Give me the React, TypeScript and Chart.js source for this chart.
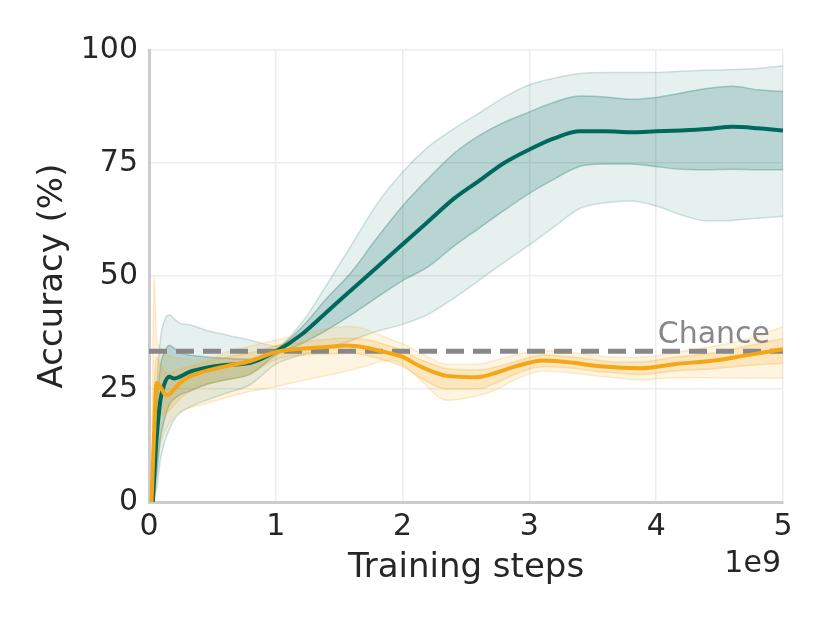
import { Chart, registerables, type ChartConfiguration, type Plugin } from "chart.js";
import { useEffect, useRef } from "react";

Chart.register(...registerables);

// training steps are in units of 1e9
const tealSteps = [0.03, 0.06, 0.09, 0.12, 0.16, 0.2, 0.25, 0.32, 0.45, 0.6, 0.8, 1.0, 1.2, 1.4, 1.6, 1.8, 2.0, 2.2, 2.4, 2.6, 2.8, 3.0, 3.2, 3.4, 3.6, 3.8, 4.0, 4.2, 4.4, 4.6, 4.8, 5.0];
const tealMean = [0, 14, 22.5, 26, 27.7, 27.3, 27.8, 28.8, 29.7, 30.3, 30.8, 33.3, 37, 42, 47, 52, 57, 62, 67, 71, 75, 78, 80.5, 82, 82, 81.8, 82, 82.2, 82.5, 83, 82.7, 82.2];
const tealInnerHi = [0, 20, 30, 33, 34.7, 34, 33, 32.5, 32.1, 31.8, 31.6, 33.7, 38.5, 45, 51, 58.5, 65.5, 71.5, 77, 81, 84, 86.3, 88.5, 89.8, 89.6, 89.1, 89.5, 90.5, 91.5, 92, 91.2, 90.8];
const tealInnerLo = [0, 6, 14, 18, 21.5, 22.8, 23.8, 24.5, 26, 27, 28.3, 32.5, 35, 38, 41.5, 45.3, 49, 52, 56.5, 60.5, 64.5, 68.3, 71.5, 74.3, 74.8, 74.8, 74.2, 73.6, 73.5, 73.6, 73.5, 73.5];
const tealOuterHi = [0, 25, 36, 40, 41.4, 40.5, 39.5, 39.2, 38, 37, 35.8, 34.5, 39.5, 48, 57, 66, 73, 78.5, 82.5, 86, 89.5, 92.3, 93.8, 94.8, 95, 95, 95, 95.3, 95.5, 95.7, 95.9, 96.5];
const tealOuterLo = [0, 3, 9.3, 13, 16, 18.3, 19.8, 21, 22.5, 24, 26, 30.5, 32.5, 34, 35.8, 37.8, 39.3, 41.5, 45, 49, 53, 56.9, 61, 65, 66.2, 66.6, 65.5, 63.5, 62.2, 62.3, 62.8, 63.2];

const orangeSteps = [0.02, 0.04, 0.06, 0.09, 0.12, 0.15, 0.2, 0.25, 0.32, 0.45, 0.6, 0.8, 1.0, 1.2, 1.4, 1.56, 1.7, 1.9, 2.0, 2.14, 2.35, 2.59, 2.75, 2.88, 3.11, 3.35, 3.5, 3.67, 3.88, 4.14, 4.46, 4.72, 5.0];
const orangeMean = [0, 15, 26.3, 25.5, 24, 23.7, 25, 26.5, 27.7, 29, 30, 31.2, 33.2, 33.9, 34.3, 34.6, 34.2, 32.9, 32.1, 30, 27.9, 27.6, 28.7, 29.9, 31.3, 30.8, 30.2, 29.8, 29.6, 30.5, 31.3, 32.5, 33.8];
const orangeInnerHi = [0, 25, 32, 30, 29, 28.5, 29, 29.5, 30, 31, 32, 33, 34.5, 35.3, 36, 36.3, 36, 34.5, 33.5, 31.5, 29.5, 29.2, 30, 31, 32.5, 32, 31.5, 31, 31, 32, 33, 34.5, 36.2];
const orangeInnerLo = [0, 8, 18, 19, 19.5, 20, 21.5, 23, 24.5, 26, 27, 28.5, 31.5, 32.5, 32.8, 33, 32.5, 31, 30, 27.5, 25, 25, 26.5, 28.2, 30, 29.6, 29, 28.6, 28.2, 29, 29.5, 30.2, 30.7];
const orangeOuterHi = [0, 50, 36, 34, 33, 32.5, 32, 31.8, 31.5, 31.5, 33, 34.5, 35.8, 37, 38.3, 38.8, 38.3, 36, 35, 33, 30.5, 30.5, 31.5, 32.5, 33.5, 33, 32.5, 32, 32, 33, 34.5, 36, 38.8];
const orangeOuterLo = [0, 0, 8, 13, 15.5, 17, 18.9, 20, 20.8, 21.8, 23, 24.5, 25.5, 26.8, 28, 29, 30, 31.4, 30.5, 27, 22.5, 23.5, 25, 27, 29, 28.5, 28, 27.5, 27, 27.5, 27.5, 27.4, 27.4];

const chanceSteps = [0, 5];
const chanceLevel = [33.33, 33.33];

const xTicks = [0, 1, 2, 3, 4, 5];
const yTicks = [0, 25, 50, 75, 100];

const TEAL = "rgb(0, 105, 94)";
const ORANGE = "rgb(245, 166, 20)";
const FONT = "'DejaVu Sans', sans-serif";

const zip = (xs: number[], ys: number[]) => xs.map((x, i) => ({ x, y: ys[i] }));

function band(xs: number[], hi: number[], lo: number[], rgb: string, alpha: number, hiIndex: number, order: number) {
  const edge = `rgba(${rgb}, ${alpha + 0.08})`;
  return [
    {
      data: zip(xs, hi),
      borderColor: edge,
      borderWidth: 1.5,
      backgroundColor: `rgba(${rgb}, ${alpha})`,
      fill: hiIndex + 1,
      order,
    },
    {
      data: zip(xs, lo),
      borderColor: edge,
      borderWidth: 1.5,
      fill: false,
      order,
    },
  ];
}

const textPlugin: Plugin<"line"> = {
  id: "texts",
  afterDraw(chart) {
    const ctx = chart.ctx;
    ctx.save();
    ctx.fillStyle = "#262626";
    ctx.font = `34px ${FONT}`;
    ctx.textAlign = "center";
    ctx.textBaseline = "alphabetic";
    ctx.fillText("Training steps", 466, 577);
    ctx.font = `30px ${FONT}`;
    ctx.textAlign = "right";
    ctx.fillText("1e9", 781, 572);
    ctx.fillStyle = "#888888";
    ctx.fillText("Chance", 770, 343);
    ctx.fillStyle = "#262626";
    ctx.translate(53, 276);
    ctx.rotate(-Math.PI / 2);
    ctx.font = `34px ${FONT}`;
    ctx.textAlign = "center";
    ctx.textBaseline = "middle";
    ctx.fillText("Accuracy (%)", 0, 0);
    ctx.restore();
  },
};

const config: ChartConfiguration<"line"> = {
  type: "line",
  data: {
    datasets: [
      ...band(tealSteps, tealOuterHi, tealOuterLo, "0, 105, 94", 0.1, 0, 6),
      ...band(tealSteps, tealInnerHi, tealInnerLo, "0, 105, 94", 0.2, 2, 5),
      ...band(orangeSteps, orangeOuterHi, orangeOuterLo, "245, 166, 20", 0.12, 4, 4),
      ...band(orangeSteps, orangeInnerHi, orangeInnerLo, "245, 166, 20", 0.18, 6, 3),
      {
        data: zip(chanceSteps, chanceLevel),
        borderColor: "#888888",
        borderWidth: 5,
        borderDash: [18, 9],
        fill: false,
        tension: 0,
        order: 2,
      },
      { data: zip(tealSteps, tealMean), borderColor: TEAL, borderWidth: 4, fill: false, order: 1 },
      { data: zip(orangeSteps, orangeMean), borderColor: ORANGE, borderWidth: 4, fill: false, order: 0 },
    ],
  },
  options: {
    responsive: false,
    animation: false,
    devicePixelRatio: 1,
    layout: { padding: { top: 50, right: 47, left: 0, bottom: 0 } },
    elements: {
      point: { radius: 0 },
      line: { cubicInterpolationMode: "monotone" },
    },
    plugins: {
      legend: { display: false },
      tooltip: { enabled: false },
    },
    scales: {
      x: {
        type: "linear",
        min: 0,
        max: 5,
        afterFit: (scale) => {
          scale.height = 121;
        },
        afterBuildTicks: (scale) => {
          scale.ticks = xTicks.map((value) => ({ value }));
        },
        ticks: { color: "#262626", font: { family: FONT, size: 30 }, padding: 7 },
        grid: { color: "#ededed", lineWidth: 1.5, drawTicks: false },
        border: { color: "#cccccc", width: 3 },
      },
      y: {
        type: "linear",
        min: 0,
        max: 100,
        afterFit: (scale) => {
          scale.width = 149;
        },
        afterBuildTicks: (scale) => {
          scale.ticks = yTicks.map((value) => ({ value }));
        },
        ticks: { color: "#262626", font: { family: FONT, size: 30 }, padding: 11 },
        grid: { color: "#ededed", lineWidth: 1.5, drawTicks: false },
        border: { color: "#cccccc", width: 3 },
      },
    },
  },
  plugins: [textPlugin],
};

export default function App() {
  const canvasRef = useRef<HTMLCanvasElement>(null);

  useEffect(() => {
    if (!canvasRef.current) {
      return undefined;
    }
    const chart = new Chart(canvasRef.current, config);
    return () => chart.destroy();
  }, []);

  return (
    <div style={{ position: "absolute", left: 0, top: 0, width: 830, height: 623, background: "#fff" }}>
      <canvas ref={canvasRef} width={830} height={623} />
    </div>
  );
}
